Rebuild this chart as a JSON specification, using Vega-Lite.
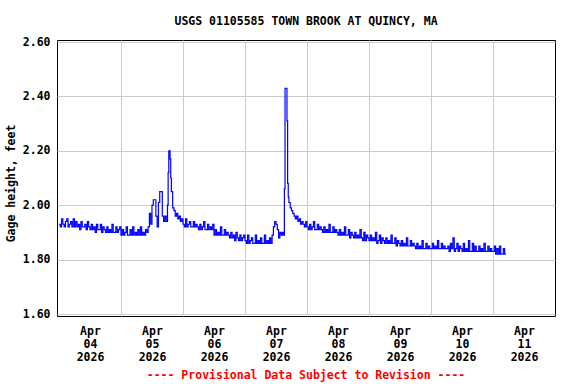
{
  "$schema": "https://vega.github.io/schema/vega-lite/v6.json",
  "width": 498,
  "height": 276,
  "autosize": "none",
  "padding": {"left": 57, "top": 40, "right": 21, "bottom": 68},
  "background": "white",
  "config": {
    "view": {"stroke": "black", "strokeWidth": 1},
    "font": "DejaVu Sans Mono",
    "axis": {"labelFont": "DejaVu Sans Mono", "titleFont": "DejaVu Sans Mono", "labelFontWeight": "bold", "titleFontWeight": "bold", "labelColor": "black", "titleColor": "black", "gridColor": "#cccccc", "gridWidth": 1, "gridOpacity": 1, "domain": false, "ticks": false}
  },
  "title": {"text": "USGS 01105585 TOWN BROOK AT QUINCY, MA", "font": "DejaVu Sans Mono", "fontSize": 11.5, "fontWeight": "bold", "color": "black", "anchor": "middle", "dx": 0, "offset": 9},
  "data": {"values": [
    {"t":"2026-04-04T00:00","v":1.93},{"t":"2026-04-04T00:30","v":1.92},{"t":"2026-04-04T01:00","v":1.95},{"t":"2026-04-04T01:30","v":1.93},{"t":"2026-04-04T02:00","v":1.92},{"t":"2026-04-04T02:30","v":1.94},{"t":"2026-04-04T03:00","v":1.95},{"t":"2026-04-04T03:30","v":1.92},{"t":"2026-04-04T04:00","v":1.93},{"t":"2026-04-04T04:30","v":1.94},{"t":"2026-04-04T05:00","v":1.92},{"t":"2026-04-04T05:30","v":1.95},
    {"t":"2026-04-04T06:00","v":1.92},{"t":"2026-04-04T06:30","v":1.94},{"t":"2026-04-04T07:00","v":1.92},{"t":"2026-04-04T07:30","v":1.93},{"t":"2026-04-04T08:00","v":1.91},{"t":"2026-04-04T08:30","v":1.94},{"t":"2026-04-04T09:00","v":1.92},{"t":"2026-04-04T09:30","v":1.92},{"t":"2026-04-04T10:00","v":1.93},{"t":"2026-04-04T10:30","v":1.91},{"t":"2026-04-04T11:00","v":1.94},{"t":"2026-04-04T11:30","v":1.92},
    {"t":"2026-04-04T12:00","v":1.91},{"t":"2026-04-04T12:30","v":1.93},{"t":"2026-04-04T13:00","v":1.91},{"t":"2026-04-04T13:30","v":1.92},{"t":"2026-04-04T14:00","v":1.90},{"t":"2026-04-04T14:30","v":1.93},{"t":"2026-04-04T15:00","v":1.91},{"t":"2026-04-04T15:30","v":1.91},{"t":"2026-04-04T16:00","v":1.93},{"t":"2026-04-04T16:30","v":1.90},{"t":"2026-04-04T17:00","v":1.92},{"t":"2026-04-04T17:30","v":1.91},
    {"t":"2026-04-04T18:00","v":1.90},{"t":"2026-04-04T18:30","v":1.92},{"t":"2026-04-04T19:00","v":1.90},{"t":"2026-04-04T19:30","v":1.91},{"t":"2026-04-04T20:00","v":1.90},{"t":"2026-04-04T20:30","v":1.93},{"t":"2026-04-04T21:00","v":1.90},{"t":"2026-04-04T21:30","v":1.90},{"t":"2026-04-04T22:00","v":1.92},{"t":"2026-04-04T22:30","v":1.90},{"t":"2026-04-04T23:00","v":1.91},{"t":"2026-04-04T23:30","v":1.92},
    {"t":"2026-04-05T00:00","v":1.89},{"t":"2026-04-05T00:30","v":1.91},{"t":"2026-04-05T01:00","v":1.89},{"t":"2026-04-05T01:30","v":1.90},{"t":"2026-04-05T02:00","v":1.92},{"t":"2026-04-05T02:30","v":1.89},{"t":"2026-04-05T03:00","v":1.89},{"t":"2026-04-05T03:30","v":1.91},{"t":"2026-04-05T04:00","v":1.89},{"t":"2026-04-05T04:30","v":1.92},{"t":"2026-04-05T05:00","v":1.89},{"t":"2026-04-05T05:30","v":1.90},
    {"t":"2026-04-05T06:00","v":1.89},{"t":"2026-04-05T06:30","v":1.91},{"t":"2026-04-05T07:00","v":1.89},{"t":"2026-04-05T07:30","v":1.92},{"t":"2026-04-05T08:00","v":1.89},{"t":"2026-04-05T08:30","v":1.90},{"t":"2026-04-05T09:00","v":1.89},{"t":"2026-04-05T09:30","v":1.91},{"t":"2026-04-05T10:00","v":1.90},{"t":"2026-04-05T10:30","v":1.92},{"t":"2026-04-05T11:00","v":1.97},{"t":"2026-04-05T11:30","v":1.93},
    {"t":"2026-04-05T12:00","v":2.00},{"t":"2026-04-05T12:30","v":2.02},{"t":"2026-04-05T13:00","v":2.02},{"t":"2026-04-05T13:30","v":1.96},{"t":"2026-04-05T14:00","v":1.92},{"t":"2026-04-05T14:30","v":2.01},{"t":"2026-04-05T15:00","v":2.05},{"t":"2026-04-05T15:30","v":2.05},{"t":"2026-04-05T16:00","v":1.96},{"t":"2026-04-05T16:30","v":1.94},{"t":"2026-04-05T17:00","v":1.96},{"t":"2026-04-05T17:30","v":1.94},
    {"t":"2026-04-05T18:00","v":2.00},{"t":"2026-04-05T18:15","v":2.12},{"t":"2026-04-05T18:30","v":2.20},{"t":"2026-04-05T18:45","v":2.20},{"t":"2026-04-05T19:00","v":2.17},{"t":"2026-04-05T19:15","v":2.10},{"t":"2026-04-05T19:30","v":2.05},{"t":"2026-04-05T20:00","v":1.99},{"t":"2026-04-05T20:30","v":1.98},{"t":"2026-04-05T21:00","v":1.96},{"t":"2026-04-05T21:30","v":1.97},{"t":"2026-04-05T22:00","v":1.95},{"t":"2026-04-05T22:30","v":1.96},{"t":"2026-04-05T23:00","v":1.94},{"t":"2026-04-05T23:30","v":1.95},
    {"t":"2026-04-06T00:00","v":1.93},{"t":"2026-04-06T00:30","v":1.92},{"t":"2026-04-06T01:00","v":1.95},{"t":"2026-04-06T01:30","v":1.92},{"t":"2026-04-06T02:00","v":1.93},{"t":"2026-04-06T02:30","v":1.94},{"t":"2026-04-06T03:00","v":1.92},{"t":"2026-04-06T03:30","v":1.92},{"t":"2026-04-06T04:00","v":1.94},{"t":"2026-04-06T04:30","v":1.92},{"t":"2026-04-06T05:00","v":1.93},{"t":"2026-04-06T05:30","v":1.92},
    {"t":"2026-04-06T06:00","v":1.91},{"t":"2026-04-06T06:30","v":1.93},{"t":"2026-04-06T07:00","v":1.91},{"t":"2026-04-06T07:30","v":1.92},{"t":"2026-04-06T08:00","v":1.94},{"t":"2026-04-06T08:30","v":1.91},{"t":"2026-04-06T09:00","v":1.91},{"t":"2026-04-06T09:30","v":1.93},{"t":"2026-04-06T10:00","v":1.91},{"t":"2026-04-06T10:30","v":1.92},{"t":"2026-04-06T11:00","v":1.91},{"t":"2026-04-06T11:30","v":1.93},
    {"t":"2026-04-06T12:00","v":1.89},{"t":"2026-04-06T12:30","v":1.91},{"t":"2026-04-06T13:00","v":1.89},{"t":"2026-04-06T13:30","v":1.90},{"t":"2026-04-06T14:00","v":1.89},{"t":"2026-04-06T14:30","v":1.92},{"t":"2026-04-06T15:00","v":1.89},{"t":"2026-04-06T15:30","v":1.89},{"t":"2026-04-06T16:00","v":1.91},{"t":"2026-04-06T16:30","v":1.89},{"t":"2026-04-06T17:00","v":1.90},{"t":"2026-04-06T17:30","v":1.89},
    {"t":"2026-04-06T18:00","v":1.88},{"t":"2026-04-06T18:30","v":1.90},{"t":"2026-04-06T19:00","v":1.88},{"t":"2026-04-06T19:30","v":1.89},{"t":"2026-04-06T20:00","v":1.87},{"t":"2026-04-06T20:30","v":1.90},{"t":"2026-04-06T21:00","v":1.88},{"t":"2026-04-06T21:30","v":1.87},{"t":"2026-04-06T22:00","v":1.89},{"t":"2026-04-06T22:30","v":1.87},{"t":"2026-04-06T23:00","v":1.88},{"t":"2026-04-06T23:30","v":1.89},
    {"t":"2026-04-07T00:00","v":1.87},{"t":"2026-04-07T00:30","v":1.86},{"t":"2026-04-07T01:00","v":1.89},{"t":"2026-04-07T01:30","v":1.86},{"t":"2026-04-07T02:00","v":1.87},{"t":"2026-04-07T02:30","v":1.88},{"t":"2026-04-07T03:00","v":1.86},{"t":"2026-04-07T03:30","v":1.86},{"t":"2026-04-07T04:00","v":1.89},{"t":"2026-04-07T04:30","v":1.86},{"t":"2026-04-07T05:00","v":1.87},{"t":"2026-04-07T05:30","v":1.86},
    {"t":"2026-04-07T06:00","v":1.88},{"t":"2026-04-07T06:30","v":1.86},{"t":"2026-04-07T07:00","v":1.86},{"t":"2026-04-07T07:30","v":1.89},{"t":"2026-04-07T08:00","v":1.86},{"t":"2026-04-07T08:30","v":1.87},{"t":"2026-04-07T09:00","v":1.86},{"t":"2026-04-07T09:30","v":1.88},{"t":"2026-04-07T10:00","v":1.86},{"t":"2026-04-07T10:30","v":1.89},{"t":"2026-04-07T11:00","v":1.92},{"t":"2026-04-07T11:30","v":1.94},
    {"t":"2026-04-07T12:00","v":1.93},{"t":"2026-04-07T12:30","v":1.91},{"t":"2026-04-07T13:00","v":1.88},{"t":"2026-04-07T13:30","v":1.90},{"t":"2026-04-07T14:00","v":1.89},{"t":"2026-04-07T14:30","v":1.90},{"t":"2026-04-07T15:00","v":1.89},{"t":"2026-04-07T15:15","v":2.06},{"t":"2026-04-07T15:30","v":2.43},{"t":"2026-04-07T15:45","v":2.43},{"t":"2026-04-07T16:00","v":2.43},{"t":"2026-04-07T16:15","v":2.31},{"t":"2026-04-07T16:30","v":2.08},{"t":"2026-04-07T16:45","v":2.03},{"t":"2026-04-07T17:00","v":2.01},{"t":"2026-04-07T17:30","v":1.99},
    {"t":"2026-04-07T18:00","v":1.98},{"t":"2026-04-07T18:30","v":1.97},{"t":"2026-04-07T19:00","v":1.96},{"t":"2026-04-07T19:30","v":1.95},{"t":"2026-04-07T20:00","v":1.96},{"t":"2026-04-07T20:30","v":1.94},{"t":"2026-04-07T21:00","v":1.95},{"t":"2026-04-07T21:30","v":1.93},{"t":"2026-04-07T22:00","v":1.94},{"t":"2026-04-07T22:30","v":1.93},{"t":"2026-04-07T23:00","v":1.92},{"t":"2026-04-07T23:30","v":1.94},
    {"t":"2026-04-08T00:00","v":1.92},{"t":"2026-04-08T00:30","v":1.91},{"t":"2026-04-08T01:00","v":1.93},{"t":"2026-04-08T01:30","v":1.91},{"t":"2026-04-08T02:00","v":1.92},{"t":"2026-04-08T02:30","v":1.94},{"t":"2026-04-08T03:00","v":1.91},{"t":"2026-04-08T03:30","v":1.91},{"t":"2026-04-08T04:00","v":1.93},{"t":"2026-04-08T04:30","v":1.91},{"t":"2026-04-08T05:00","v":1.92},{"t":"2026-04-08T05:30","v":1.91},
    {"t":"2026-04-08T06:00","v":1.90},{"t":"2026-04-08T06:30","v":1.92},{"t":"2026-04-08T07:00","v":1.90},{"t":"2026-04-08T07:30","v":1.91},{"t":"2026-04-08T08:00","v":1.90},{"t":"2026-04-08T08:30","v":1.93},{"t":"2026-04-08T09:00","v":1.90},{"t":"2026-04-08T09:30","v":1.90},{"t":"2026-04-08T10:00","v":1.92},{"t":"2026-04-08T10:30","v":1.90},{"t":"2026-04-08T11:00","v":1.91},{"t":"2026-04-08T11:30","v":1.90},
    {"t":"2026-04-08T12:00","v":1.89},{"t":"2026-04-08T12:30","v":1.91},{"t":"2026-04-08T13:00","v":1.89},{"t":"2026-04-08T13:30","v":1.90},{"t":"2026-04-08T14:00","v":1.89},{"t":"2026-04-08T14:30","v":1.92},{"t":"2026-04-08T15:00","v":1.89},{"t":"2026-04-08T15:30","v":1.89},{"t":"2026-04-08T16:00","v":1.91},{"t":"2026-04-08T16:30","v":1.88},{"t":"2026-04-08T17:00","v":1.90},{"t":"2026-04-08T17:30","v":1.89},
    {"t":"2026-04-08T18:00","v":1.88},{"t":"2026-04-08T18:30","v":1.90},{"t":"2026-04-08T19:00","v":1.88},{"t":"2026-04-08T19:30","v":1.89},{"t":"2026-04-08T20:00","v":1.88},{"t":"2026-04-08T20:30","v":1.91},{"t":"2026-04-08T21:00","v":1.88},{"t":"2026-04-08T21:30","v":1.87},{"t":"2026-04-08T22:00","v":1.90},{"t":"2026-04-08T22:30","v":1.87},{"t":"2026-04-08T23:00","v":1.89},{"t":"2026-04-08T23:30","v":1.88},
    {"t":"2026-04-09T00:00","v":1.87},{"t":"2026-04-09T00:30","v":1.89},{"t":"2026-04-09T01:00","v":1.87},{"t":"2026-04-09T01:30","v":1.88},{"t":"2026-04-09T02:00","v":1.87},{"t":"2026-04-09T02:30","v":1.90},{"t":"2026-04-09T03:00","v":1.86},{"t":"2026-04-09T03:30","v":1.87},{"t":"2026-04-09T04:00","v":1.89},{"t":"2026-04-09T04:30","v":1.86},{"t":"2026-04-09T05:00","v":1.88},{"t":"2026-04-09T05:30","v":1.87},
    {"t":"2026-04-09T06:00","v":1.86},{"t":"2026-04-09T06:30","v":1.88},{"t":"2026-04-09T07:00","v":1.86},{"t":"2026-04-09T07:30","v":1.87},{"t":"2026-04-09T08:00","v":1.86},{"t":"2026-04-09T08:30","v":1.89},{"t":"2026-04-09T09:00","v":1.86},{"t":"2026-04-09T09:30","v":1.86},{"t":"2026-04-09T10:00","v":1.88},{"t":"2026-04-09T10:30","v":1.85},{"t":"2026-04-09T11:00","v":1.87},{"t":"2026-04-09T11:30","v":1.86},
    {"t":"2026-04-09T12:00","v":1.85},{"t":"2026-04-09T12:30","v":1.87},{"t":"2026-04-09T13:00","v":1.85},{"t":"2026-04-09T13:30","v":1.86},{"t":"2026-04-09T14:00","v":1.85},{"t":"2026-04-09T14:30","v":1.88},{"t":"2026-04-09T15:00","v":1.85},{"t":"2026-04-09T15:30","v":1.85},{"t":"2026-04-09T16:00","v":1.87},{"t":"2026-04-09T16:30","v":1.85},{"t":"2026-04-09T17:00","v":1.86},{"t":"2026-04-09T17:30","v":1.85},
    {"t":"2026-04-09T18:00","v":1.84},{"t":"2026-04-09T18:30","v":1.86},{"t":"2026-04-09T19:00","v":1.84},{"t":"2026-04-09T19:30","v":1.85},{"t":"2026-04-09T20:00","v":1.84},{"t":"2026-04-09T20:30","v":1.87},{"t":"2026-04-09T21:00","v":1.84},{"t":"2026-04-09T21:30","v":1.84},{"t":"2026-04-09T22:00","v":1.86},{"t":"2026-04-09T22:30","v":1.84},{"t":"2026-04-09T23:00","v":1.85},{"t":"2026-04-09T23:30","v":1.84},
    {"t":"2026-04-10T00:00","v":1.84},{"t":"2026-04-10T00:30","v":1.86},{"t":"2026-04-10T01:00","v":1.84},{"t":"2026-04-10T01:30","v":1.85},{"t":"2026-04-10T02:00","v":1.84},{"t":"2026-04-10T02:30","v":1.87},{"t":"2026-04-10T03:00","v":1.84},{"t":"2026-04-10T03:30","v":1.84},{"t":"2026-04-10T04:00","v":1.86},{"t":"2026-04-10T04:30","v":1.84},{"t":"2026-04-10T05:00","v":1.85},{"t":"2026-04-10T05:30","v":1.84},
    {"t":"2026-04-10T06:00","v":1.84},{"t":"2026-04-10T06:30","v":1.85},{"t":"2026-04-10T07:00","v":1.83},{"t":"2026-04-10T07:30","v":1.86},{"t":"2026-04-10T08:00","v":1.84},{"t":"2026-04-10T08:30","v":1.88},{"t":"2026-04-10T09:00","v":1.83},{"t":"2026-04-10T09:30","v":1.84},{"t":"2026-04-10T10:00","v":1.86},{"t":"2026-04-10T10:30","v":1.83},{"t":"2026-04-10T11:00","v":1.85},{"t":"2026-04-10T11:30","v":1.84},
    {"t":"2026-04-10T12:00","v":1.83},{"t":"2026-04-10T12:30","v":1.86},{"t":"2026-04-10T13:00","v":1.83},{"t":"2026-04-10T13:30","v":1.84},{"t":"2026-04-10T14:00","v":1.83},{"t":"2026-04-10T14:30","v":1.87},{"t":"2026-04-10T15:00","v":1.83},{"t":"2026-04-10T15:30","v":1.83},{"t":"2026-04-10T16:00","v":1.86},{"t":"2026-04-10T16:30","v":1.83},{"t":"2026-04-10T17:00","v":1.85},{"t":"2026-04-10T17:30","v":1.83},
    {"t":"2026-04-10T18:00","v":1.83},{"t":"2026-04-10T18:30","v":1.85},{"t":"2026-04-10T19:00","v":1.83},{"t":"2026-04-10T19:30","v":1.84},{"t":"2026-04-10T20:00","v":1.83},{"t":"2026-04-10T20:30","v":1.86},{"t":"2026-04-10T21:00","v":1.83},{"t":"2026-04-10T21:30","v":1.83},{"t":"2026-04-10T22:00","v":1.85},{"t":"2026-04-10T22:30","v":1.83},{"t":"2026-04-10T23:00","v":1.84},{"t":"2026-04-10T23:30","v":1.83},
    {"t":"2026-04-11T00:00","v":1.83},{"t":"2026-04-11T00:30","v":1.85},{"t":"2026-04-11T01:00","v":1.82},{"t":"2026-04-11T01:30","v":1.84},{"t":"2026-04-11T02:00","v":1.82},{"t":"2026-04-11T02:30","v":1.85},{"t":"2026-04-11T03:00","v":1.82},{"t":"2026-04-11T03:30","v":1.82},{"t":"2026-04-11T04:00","v":1.84},{"t":"2026-04-11T04:30","v":1.82},{"t":"2026-04-11T05:00","v":1.82}
  ]},
  "mark": {"type": "line", "color": "#0000ff", "strokeWidth": 1.2, "interpolate": "step-after"},
  "encoding": {
    "x": {
      "field": "t", "type": "temporal",
      "scale": {"domain": [{"year": 2026, "month": 4, "date": 3, "hours": 23, "minutes": 14}, {"year": 2026, "month": 4, "date": 12}]},
      "axis": {
        "values": [{"year": 2026, "month": 4, "date": 4}, {"year": 2026, "month": 4, "date": 5}, {"year": 2026, "month": 4, "date": 6}, {"year": 2026, "month": 4, "date": 7}, {"year": 2026, "month": 4, "date": 8}, {"year": 2026, "month": 4, "date": 9}, {"year": 2026, "month": 4, "date": 10}, {"year": 2026, "month": 4, "date": 11}],
        "labelExpr": "[timeFormat(datum.value, '%b'), timeFormat(datum.value, '%d'), timeFormat(datum.value, '%Y')]",
        "labelOffset": 31, "labelPadding": 9, "labelFontSize": 11.5, "labelLineHeight": 13,
        "labelFlush": false, "labelOverlap": false, "labelBound": false, "labelAngle": 0,
        "gridColor": {"condition": {"test": "+datum.value < +datetime(2026, 3, 4, 1)", "value": "transparent"}, "value": "#cccccc"},
        "title": "---- Provisional Data Subject to Revision ----",
        "titleColor": "#ff0000", "titleFontSize": 11.5, "titleX": 248.5, "titleY": 59, "titleBaseline": "middle", "titleAlign": "center"
      }
    },
    "y": {
      "field": "v", "type": "quantitative",
      "scale": {"domain": [1.6, 2.6], "nice": false, "zero": false, "padding": 2},
      "axis": {
        "values": [1.6, 1.8, 2.0, 2.2, 2.4, 2.6], "format": ".2f",
        "labelPadding": 7, "labelFontSize": 11.5,
        "title": "Gage height, feet", "titleFontSize": 11.5, "titleX": -46, "titleY": 143, "titleAngle": 270, "titleAlign": "center", "titleBaseline": "middle"
      }
    }
  }
}
